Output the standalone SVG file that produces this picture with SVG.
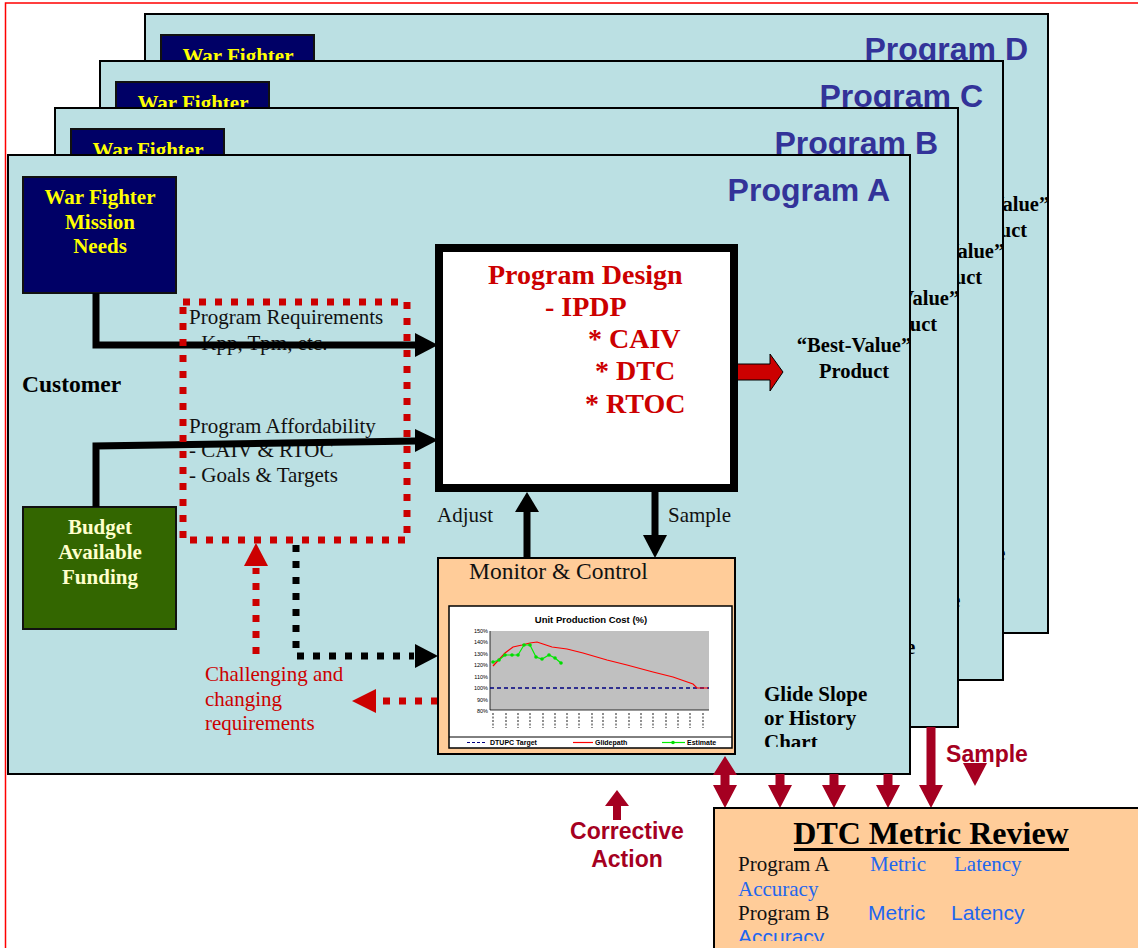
<svg xmlns="http://www.w3.org/2000/svg" width="1138" height="948" viewBox="0 0 1138 948">
<defs>
<style>
.panel{fill:#BBE0E3;stroke:#000;stroke-width:2}
.wf{fill:#000066;stroke:#111;stroke-width:2}
.bud{fill:#336600;stroke:#111;stroke-width:2}
.wft{font-family:"Liberation Serif",serif;font-weight:bold;font-size:21px;fill:#FFFF00;text-anchor:middle}
.budt{font-family:"Liberation Serif",serif;font-weight:bold;font-size:21px;fill:#FFFFCC;text-anchor:middle}
.title{font-family:"Liberation Sans",sans-serif;font-weight:bold;font-size:32px;fill:#333399;text-anchor:end}
.bv{font-family:"Liberation Serif",serif;font-weight:bold;font-size:20.5px;fill:#000;text-anchor:middle}
.gs{font-family:"Liberation Serif",serif;font-weight:bold;font-size:21px;fill:#000}
.t{font-family:"Liberation Serif",serif;font-size:21px;fill:#111}
.t21{font-family:"Liberation Serif",serif;font-size:21px;fill:#111}
.red21{font-family:"Liberation Serif",serif;font-size:21px;fill:#CC0000}
.pd{font-family:"Liberation Serif",serif;font-weight:bold;font-size:28px;fill:#CC0000}
.dr{fill:#A50021}
.drt{font-family:"Liberation Sans",sans-serif;font-weight:bold;font-size:23px;fill:#A50021;text-anchor:middle}
.blk{stroke:#000;stroke-width:7;fill:none}
.rdot{stroke:#CC0000;stroke-width:7;fill:none;stroke-dasharray:7 9}
.kdot{stroke:#000;stroke-width:7;fill:none;stroke-dasharray:7 9}
.ax{font-family:"Liberation Sans",sans-serif;font-size:5.5px;fill:#000;text-anchor:end}
.lg{font-family:"Liberation Sans",sans-serif;font-weight:bold;font-size:7px;fill:#000}
.xl{stroke:#555;stroke-width:1.3;stroke-dasharray:2 1.5}
.bl{font-family:"Liberation Serif",serif;font-size:21px;fill:#2266EE}
.bls{font-family:"Liberation Sans",sans-serif;font-size:21px;fill:#1F66F0}
</style>
<clipPath id="clipChart"><rect x="0" y="0" width="1138" height="747"/></clipPath>
<clipPath id="clipAcc"><rect x="0" y="0" width="1138" height="941"/></clipPath>
</defs>

<rect x="5.5" y="3" width="1140" height="950" fill="none" stroke="#FF0000" stroke-width="1.5"/>

<g id="panel-d" transform="translate(145,14)">
<rect class="panel" x="0" y="0" width="903" height="619"/>
<rect class="wf" x="16" y="21" width="153" height="117"/>
<text class="wft" x="93" y="49">War Fighter</text>
<text class="title" x="883" y="46">Program D</text>
<text class="bv" x="847" y="197">“Best-Value”</text>
<text class="bv" x="847" y="223">Product</text>
<text class="gs" x="757" y="546">Glide Slope</text>
</g>
<g id="panel-c" transform="translate(100,61)">
<rect class="panel" x="0" y="0" width="903" height="619"/>
<rect class="wf" x="16" y="21" width="153" height="117"/>
<text class="wft" x="93" y="49">War Fighter</text>
<text class="title" x="883" y="46">Program C</text>
<text class="bv" x="847" y="197">“Best-Value”</text>
<text class="bv" x="847" y="223">Product</text>
<text class="gs" x="757" y="546">Glide Slope</text>
</g>
<g id="panel-b" transform="translate(55,108)">
<rect class="panel" x="0" y="0" width="903" height="619"/>
<rect class="wf" x="16" y="21" width="153" height="117"/>
<text class="wft" x="93" y="49">War Fighter</text>
<text class="title" x="883" y="46">Program B</text>
<text class="bv" x="847" y="197">“Best-Value”</text>
<text class="bv" x="847" y="223">Product</text>
<text class="gs" x="757" y="546">Glide Slope</text>
</g>

<g id="panel-a">
<rect class="panel" x="8" y="155" width="902" height="619"/>
<text class="title" x="890" y="201">Program A</text>
<text class="gs" x="22" y="392" style="font-size:23.5px">Customer</text>
</g>

<g id="war-fighter">
<rect class="wf" x="23" y="177" width="153" height="116"/>
<text class="wft" x="100" y="204">War Fighter</text>
<text class="wft" x="100" y="229">Mission</text>
<text class="wft" x="100" y="253">Needs</text>
</g>

<g id="budget">
<rect class="bud" x="23" y="507" width="153" height="122"/>
<text class="budt" x="100" y="534">Budget</text>
<text class="budt" x="100" y="559">Available</text>
<text class="budt" x="100" y="584">Funding</text>
</g>

<g id="labels-a">
<text class="t" x="189" y="324">Program Requirements</text>
<text class="t" x="189" y="350">- Kpp, Tpm, etc.</text>
<text class="t" x="189" y="433">Program Affordability</text>
<text class="t" x="189" y="457">- CAIV &amp; RTOC</text>
<text class="t" x="189" y="482">- Goals &amp; Targets</text>
<text class="t21" x="437" y="522">Adjust</text>
<text class="t21" x="668" y="522">Sample</text>
<text class="red21" x="205" y="681">Challenging and</text>
<text class="red21" x="205" y="706">changing</text>
<text class="red21" x="205" y="730">requirements</text>
</g>

<g id="connectors">
<polyline class="blk" points="96,293 96,345 416,345"/>
<polygon points="415,333 438,345 415,357" fill="#000"/>
<polyline class="blk" points="96,507 96,446 416,441"/>
<polygon points="415,429 438,440 415,452" fill="#000"/>
<line class="blk" x1="527" y1="558" x2="527" y2="511"/>
<polygon points="515,512 527,492 539,512" fill="#000"/>
<line class="blk" x1="655" y1="492" x2="655" y2="536"/>
<polygon points="643,535 655,558 667,535" fill="#000"/>
<polyline class="kdot" points="296,545 296,656 414,656"/>
<polygon points="415,644 438,656 415,668" fill="#000"/>
<path class="rdot" d="M183,302 L407,302 L407,540 L183,540 Z"/>
<line class="rdot" x1="256" y1="654" x2="256" y2="568"/>
<polygon points="244,566 256,543 268,566" fill="#CC0000"/>
<line class="rdot" x1="438" y1="701" x2="378" y2="701"/>
<polygon points="376,689 352,701 376,713" fill="#CC0000"/>
<polygon points="736,364 770,364 770,354 783,372 770,391 770,380 736,380" fill="#CC0000" stroke="#000" stroke-width="1"/>
<polygon class="dr" points="713,775 725,756 737,775 729.5,775 729.5,785 737,785 725,808 713,785 720.5,785 720.5,775"/>
<polygon class="dr" points="775.5,774 784.5,774 784.5,785 792,785 780,808 768,785 775.5,785"/>
<polygon class="dr" points="829.5,774 838.5,774 838.5,785 846,785 834,808 822,785 829.5,785"/>
<polygon class="dr" points="883.5,774 892.5,774 892.5,785 900,785 888,808 876,785 883.5,785"/>
<polygon class="dr" points="926.5,727 935.5,727 935.5,785 943,785 931,808 919,785 926.5,785"/>
<polygon class="dr" points="963,763 987,763 975,786"/>
<polygon class="dr" points="605,806 617,790 629,806 621,806 621,820 613,820 613,806"/>
</g>

<g id="program-design">
<rect x="439" y="248" width="295" height="240" fill="#fff" stroke="#000" stroke-width="8"/>
<text class="pd" x="488" y="284">Program Design</text>
<text class="pd" x="545" y="316">- IPDP</text>
<text class="pd" x="588" y="348">* CAIV</text>
<text class="pd" x="595" y="380">* DTC</text>
<text class="pd" x="585" y="413">* RTOC</text>
</g>

<g id="best-value">
<text class="bv" x="854" y="352">“Best-Value”</text>
<text class="bv" x="854" y="378">Product</text>
</g>

<g id="monitor-control">
<rect x="438" y="558" width="297" height="196" fill="#FFCC99" stroke="#000" stroke-width="2"/>
<text class="t21" x="469" y="579" style="font-size:23.5px">Monitor &amp; Control</text>
<rect x="449" y="606" width="283" height="142" fill="#fff" stroke="#000" stroke-width="1.5"/>
<text x="591" y="623" font-family="Liberation Sans, sans-serif" font-weight="bold" font-size="9.5" text-anchor="middle">Unit Production Cost (%)</text>
<rect x="490" y="631" width="219" height="79" fill="#C0C0C0"/>
<path d="M490,631 V710 H709" fill="none" stroke="#000" stroke-width="0.8"/>
<text class="ax" x="488" y="633">150%</text>
<text class="ax" x="488" y="644.4">140%</text>
<text class="ax" x="488" y="655.9">130%</text>
<text class="ax" x="488" y="667.3">120%</text>
<text class="ax" x="488" y="678.7">110%</text>
<text class="ax" x="488" y="690.1">100%</text>
<text class="ax" x="488" y="701.6">90%</text>
<text class="ax" x="488" y="713">80%</text>
<g class="xl">
<line x1="493" y1="713" x2="493" y2="728"/><line x1="506" y1="713" x2="506" y2="728"/>
<line x1="518" y1="713" x2="518" y2="728"/><line x1="530" y1="713" x2="530" y2="728"/>
<line x1="543" y1="713" x2="543" y2="728"/><line x1="555" y1="713" x2="555" y2="728"/>
<line x1="567" y1="713" x2="567" y2="728"/><line x1="579" y1="713" x2="579" y2="728"/>
<line x1="592" y1="713" x2="592" y2="728"/><line x1="603" y1="713" x2="603" y2="728"/>
<line x1="616" y1="713" x2="616" y2="728"/><line x1="629" y1="713" x2="629" y2="728"/>
<line x1="641" y1="713" x2="641" y2="728"/><line x1="653" y1="713" x2="653" y2="728"/>
<line x1="666" y1="713" x2="666" y2="728"/><line x1="678" y1="713" x2="678" y2="728"/>
<line x1="690" y1="713" x2="690" y2="728"/><line x1="703" y1="713" x2="703" y2="728"/>
</g>
<line x1="490" y1="688" x2="709" y2="688" stroke="#000080" stroke-width="1.3" stroke-dasharray="4 3"/>
<polyline points="493,666 505,653 513,647 522,645 530,643 537,642 543,644 552,647 567,649 583,653 607,660 627,665 653,672 673,677 693,684 697,688 708,688" fill="none" stroke="#FF0000" stroke-width="1.2"/>
<polyline points="493,662 499,660 505,655 512,655 518,655 524,645 530,645 536,657 542,659 549,655 555,658 561,663" fill="none" stroke="#00EE00" stroke-width="1.2"/>
<g fill="#00DD00">
<circle cx="493" cy="662" r="1.8"/><circle cx="499" cy="660" r="1.8"/><circle cx="505" cy="655" r="1.8"/>
<circle cx="512" cy="655" r="1.8"/><circle cx="518" cy="655" r="1.8"/><circle cx="524" cy="645" r="1.8"/>
<circle cx="530" cy="645" r="1.8"/><circle cx="536" cy="657" r="1.8"/><circle cx="542" cy="659" r="1.8"/>
<circle cx="549" cy="655" r="1.8"/><circle cx="555" cy="658" r="1.8"/><circle cx="561" cy="663" r="1.8"/>
</g>
<line x1="449" y1="737" x2="732" y2="737" stroke="#000" stroke-width="1"/>
<line x1="467" y1="742.5" x2="487" y2="742.5" stroke="#000080" stroke-width="1.2" stroke-dasharray="3 2"/>
<text class="lg" x="490" y="745">DTUPC Target</text>
<line x1="573" y1="742.5" x2="593" y2="742.5" stroke="#FF0000" stroke-width="1.2"/>
<text class="lg" x="595" y="745">Glidepath</text>
<line x1="662" y1="742.5" x2="685" y2="742.5" stroke="#00EE00" stroke-width="1.2"/>
<circle cx="673" cy="742.5" r="1.8" fill="#00DD00"/>
<text class="lg" x="687" y="745">Estimate</text>
</g>

<g id="glide-slope" clip-path="url(#clipChart)">
<text class="gs" x="764" y="701">Glide Slope</text>
<text class="gs" x="764" y="725">or History</text>
<text class="gs" x="764" y="749">Chart</text>
</g>

<g id="sample-label">
<text class="drt" x="987" y="762">Sample</text>
</g>
<g id="corrective-action">
<text class="drt" x="627" y="839">Corrective</text>
<text class="drt" x="627" y="867">Action</text>
</g>

<g id="dtc-metric-review">
<rect x="714" y="808" width="440" height="160" fill="#FFCC99" stroke="#000" stroke-width="2"/>
<text x="931" y="844" font-family="Liberation Serif, serif" font-weight="bold" font-size="32" text-anchor="middle">DTC Metric Review</text>
<rect x="794" y="848" width="275" height="3" fill="#000"/>
<text class="t21" x="738" y="871">Program A</text>
<text class="bl" x="870" y="871">Metric</text>
<text class="bl" x="954" y="871">Latency</text>
<text class="bl" x="738" y="896">Accuracy</text>
<text class="t21" x="738" y="920">Program B</text>
<text class="bls" x="868" y="920">Metric</text>
<text class="bls" x="951" y="920">Latency</text>
<g clip-path="url(#clipAcc)"><text class="bls" x="738" y="944">Accuracy</text></g>
</g>
</svg>
